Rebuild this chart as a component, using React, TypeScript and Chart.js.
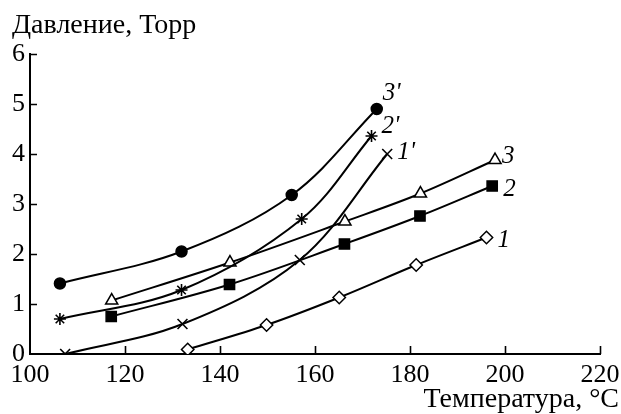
import React, { useEffect, useRef } from "react";
import { Chart, registerables } from "chart.js";

Chart.register(...registerables);

// Temperature (°C) and pressure (Torr) values per curve
const temp3p = [106.3, 131.9, 155.1, 173.0];
const pres3p = [1.41, 2.05, 3.18, 4.9];
const temp2p = [106.3, 131.9, 157.2, 171.9];
const pres2p = [0.7, 1.28, 2.7, 4.36];
const temp1p = [107.4, 132.1, 156.8, 175.2];
const pres1p = [0.0, 0.6, 1.88, 4.0];
const temp3 = [117.2, 142.1, 166.3, 182.2, 197.9];
const pres3 = [1.07, 1.83, 2.65, 3.21, 3.88];
const temp2 = [117.1, 142.0, 166.2, 182.1, 197.3];
const pres2 = [0.75, 1.39, 2.2, 2.76, 3.36];
const temp1 = [133.2, 149.8, 165.1, 181.3, 196.1];
const pres1 = [0.09, 0.58, 1.13, 1.78, 2.33];

const curveLabels = ["3'", "2'", "1'", "3", "2", "1"];
const xTicks = [100, 120, 140, 160, 180, 200, 220];
const yTicks = [0, 1, 2, 3, 4, 5, 6];
const yTitle = "Давление, Торр";
const xTitle = "Температура, °C";

// styling (not data)
const labelOffsets = [
  [6, -9],
  [10, -3],
  [10, 5],
  [7, 3],
  [11, 10],
  [11, 9],
];

function pts(xs: number[], ys: number[]) {
  return xs.map((x, i) => ({ x, y: ys[i] }));
}

const SERIF = "'Liberation Serif', 'DejaVu Serif', serif";

export default function App() {
  const ref = useRef<HTMLCanvasElement | null>(null);

  useEffect(() => {
    document.body.style.margin = "0";
    const canvas = ref.current;
    if (!canvas) return;

    const base = {
      borderColor: "#000",
      borderWidth: 2,
      pointBorderColor: "#000",
      pointBorderWidth: 1.5,
      tension: 0.35,
      fill: false,
      showLine: true,
    };

    const datasets: any[] = [
      { ...base, label: curveLabels[0], data: pts(temp3p, pres3p), pointStyle: "circle", pointRadius: 5.5, pointBackgroundColor: "#000" },
      { ...base, label: curveLabels[1], data: pts(temp2p, pres2p), pointStyle: "star", pointRadius: 6, pointBackgroundColor: "#000", pointBorderWidth: 1.6 },
      { ...base, label: curveLabels[2], data: pts(temp1p, pres1p), pointStyle: "crossRot", pointRadius: 7, pointBackgroundColor: "#000", pointBorderWidth: 1.6 },
      { ...base, label: curveLabels[3], data: pts(temp3, pres3), pointStyle: "triangle", pointRadius: 7, pointBackgroundColor: "#fff" },
      { ...base, label: curveLabels[4], data: pts(temp2, pres2), pointStyle: "rect", pointRadius: 7.2, pointBackgroundColor: "#000" },
      { ...base, label: curveLabels[5], data: pts(temp1, pres1), pointStyle: "rectRot", pointRadius: 6.2, pointBackgroundColor: "#fff" },
    ];

    const decor = {
      id: "decor",
      afterDatasetsDraw(chart: any) {
        const ctx = chart.ctx;
        const xs = chart.scales.x;
        const ys = chart.scales.y;
        const area = chart.chartArea;
        ctx.save();
        ctx.strokeStyle = "#000";
        ctx.lineWidth = 1.6;
        ctx.beginPath();
        xTicks.forEach((t) => {
          const px = Math.round(xs.getPixelForValue(t)) + 0.5;
          if (t === xTicks[0]) return;
          ctx.moveTo(px, area.bottom);
          ctx.lineTo(px, area.bottom - 8);
        });
        yTicks.forEach((t) => {
          const py = Math.round(ys.getPixelForValue(t)) + 0.5;
          if (t === yTicks[0]) return;
          ctx.moveTo(area.left, py);
          ctx.lineTo(area.left + 7, py);
        });
        ctx.stroke();

        // curve labels
        ctx.fillStyle = "#000";
        ctx.font = `italic 25px ${SERIF}`;
        ctx.textAlign = "left";
        ctx.textBaseline = "alphabetic";
        chart.data.datasets.forEach((ds: any, i: number) => {
          const meta = chart.getDatasetMeta(i);
          const last = meta.data[meta.data.length - 1];
          const [dx, dy] = labelOffsets[i];
          ctx.fillText(ds.label, last.x + dx, last.y + dy);
        });

        // axis titles
        ctx.font = `28px ${SERIF}`;
        ctx.textAlign = "left";
        ctx.fillText(yTitle, 12, 33);
        ctx.textAlign = "right";
        ctx.fillText(xTitle, 619, 407);
        ctx.restore();
      },
    };

    const chart = new Chart(canvas, {
      type: "scatter",
      data: { datasets },
      options: {
        animation: false,
        responsive: false,
        layout: { padding: { top: 54, right: 21, left: 0, bottom: 0 } },
        plugins: { legend: { display: false }, tooltip: { enabled: false } },
        scales: {
          x: {
            type: "linear",
            min: 100,
            max: 220,
            afterBuildTicks(scale: any) {
              scale.ticks = xTicks.map((v) => ({ value: v }));
            },
            afterFit(scale: any) {
              scale.height = 60;
              scale.paddingLeft = 0;
              scale.paddingRight = 0;
            },
            grid: { display: true, drawOnChartArea: false, drawTicks: false, color: "#000" },
            border: { display: true, color: "#000", width: 2 },
            ticks: {
              padding: 6,
              color: "#000",
              font: { family: SERIF, size: 26 },
              maxRotation: 0,
              autoSkip: false,
            },
          },
          y: {
            type: "linear",
            min: 0,
            max: 6,
            afterBuildTicks(scale: any) {
              scale.ticks = yTicks.map((v) => ({ value: v }));
            },
            afterFit(scale: any) {
              scale.width = 30;
              scale.paddingTop = 0;
              scale.paddingBottom = 0;
            },
            grid: { display: true, drawOnChartArea: false, drawTicks: false, color: "#000" },
            border: { display: true, color: "#000", width: 2 },
            ticks: {
              padding: 5,
              color: "#000",
              font: { family: SERIF, size: 26 },
              autoSkip: false,
            },
          },
        },
      },
      plugins: [decor],
    });

    return () => chart.destroy();
  }, []);

  return (
    <div style={{ width: 621, height: 414, background: "#fff" }}>
      <canvas ref={ref} width={621} height={414} />
    </div>
  );
}
